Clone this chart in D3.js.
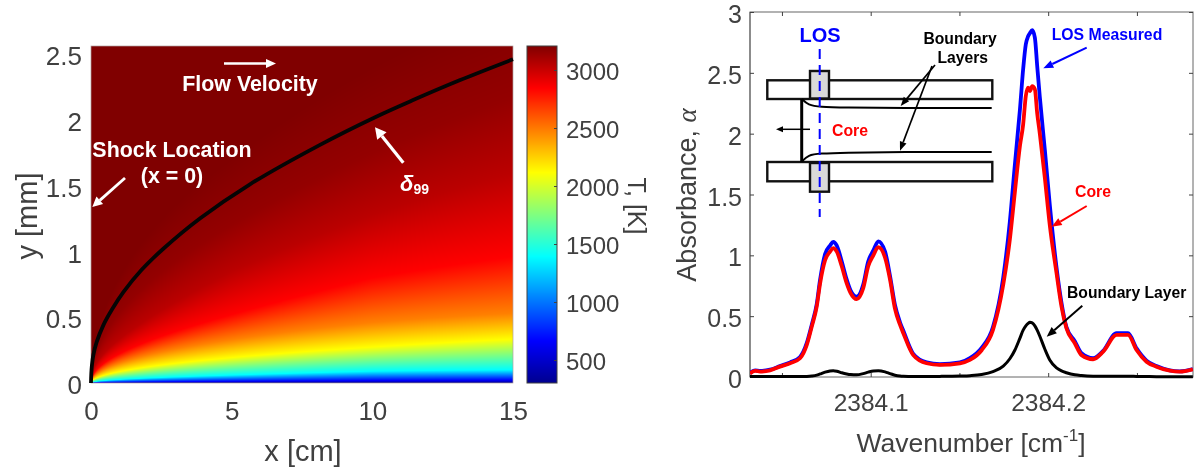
<!DOCTYPE html>
<html><head><meta charset="utf-8">
<style>
html,body{margin:0;padding:0;background:#fff;width:1194px;height:470px;overflow:hidden}
#wrap{position:relative;width:1194px;height:470px}
canvas,svg{position:absolute;left:0;top:0}
text{font-family:"Liberation Sans",Arial,sans-serif}
</style>
<script src="https://cdn.jsdelivr.net/npm/d3@7"></script>
</head><body><div id="wrap"><canvas id="heat"></canvas><svg id="svg" width="1194" height="470"></svg></div>
<script>
// ---- left panel data ----
const xTicks=[0,5,10,15];
const yTicks=[0,0.5,1,1.5,2,2.5];
const cbTicks=[500,1000,1500,2000,2500,3000];
const deltaX=[0,0.01,0.03,0.08,0.2,0.44,0.75,1.15,1.8,2.57,3.87,5.65,8.14,10.1,11.45,13.1,15];
const deltaY=[0,0.07,0.13,0.21,0.31,0.44,0.56,0.69,0.86,1.02,1.25,1.51,1.81,2.02,2.15,2.30,2.46];
// temperature field: height (mm) of each temperature level at four stations
const fieldStations=[1,5,10,15];
const fieldLevels=[302,665,1391,2117,2480,2844,3040,3150,3207];
const h01=[0,0.006,0.026,0.086,0.15,0.22,0.33,0.53,0.8];
const h05=[0,0.013,0.06,0.193,0.33,0.52,0.85,1.2,1.7];
const h10=[0,0.019,0.09,0.273,0.46,0.80,1.28,1.75,2.4];
const h15=[0,0.023,0.10,0.334,0.53,0.96,1.6,2.17,2.9];
const jetColors=["#00008f","#0000ff","#00ffff","#ffff00","#ff0000","#800000"];
const jetValues=[302,665,1391,2117,2844,3207];
// ---- right panel data ----
const specTicks=[2384.1,2384.2];
const specMinor=[2384.05,2384.1,2384.15,2384.2,2384.25];
const absTicks=[0,0.5,1,1.5,2,2.5,3];
const wave=[2384.0320,.0349,.0377,.0433,.0489,.0546,.0602,.0640,.0668,.0696,.0715,.0743,.0771,.0789,.0809,.0837,.0865,.0887,.0921,.0958,.0986,.1015,.1043,.1081,.1109,.1137,.1165,.1184,.1240,.1315,.1390,.1503,.1559,.1625,.1689,.1747,.1784,.1812,.1841,.1859,.1874,.1887,.1897,.1910,.1925,.1938,.1953,.1981,.2009,.2047,.2075,.2103,.2150,.2188,.2253,.2310,.2385,.2450,.2498,.2554,.2610,.2685,.2741,.2815].map((d,i)=>i?2384+d:d);
const losMeasured=[.035,.055,.05,.06,.09,.12,.165,.28,.43,.60,.80,1.01,1.08,1.11,1.08,.95,.80,.71,.66,.76,.95,1.04,1.115,1.03,.83,.59,.45,.38,.19,.12,.105,.12,.155,.24,.41,.82,1.277,1.74,2.2,2.53,2.735,2.80,2.825,2.85,2.79,2.56,2.3,1.87,1.417,.90,.61,.41,.295,.195,.155,.215,.36,.36,.235,.135,.09,.055,.047,.066];
const core=[.03,.05,.045,.055,.085,.113,.154,.264,.414,.58,.77,.96,1.03,1.06,1.03,.91,.77,.69,.64,.73,.91,1.0,1.067,.98,.80,.56,.43,.36,.18,.113,.10,.113,.14,.22,.387,.76,1.13,1.515,1.90,2.076,2.31,2.378,2.35,2.39,2.365,2.17,2.0,1.64,1.25,.854,.58,.40,.277,.18,.146,.208,.346,.346,.222,.126,.085,.052,.044,.063];
const boundary=[.004,.004,.004,.004,.004,.004,.004,.005,.008,.015,.025,.04,.05,.052,.048,.035,.025,.02,.018,.028,.04,.05,.052,.042,.028,.015,.008,.006,.004,.004,.005,.008,.011,.02,.044,.09,.15,.22,.32,.385,.42,.44,.45,.445,.42,.385,.335,.23,.14,.075,.05,.035,.018,.012,.007,.006,.006,.006,.005,.004,.003,.002,.002,.002];

const INK="#404040";
const svg=d3.select("#svg");
function style(g,size){g.selectAll("text").attr("fill",INK).attr("font-size",size);g.select(".domain").remove();}

// ---- left panel ----
const x=d3.scaleLinear().domain([0,15]).range([91,513]);
const y=d3.scaleLinear().domain([0,2.5]).range([383,54]);
const topPx=46;
const jet=d3.scaleLinear().domain(jetValues).range(jetColors).clamp(true);
const cv=document.getElementById("heat");cv.width=1194;cv.height=470;
const ctx=cv.getContext("2d");
const table=[h01,h05,h10,h15];
const etaAt=fieldLevels.map((_,l)=>d3.scaleLinear().domain(fieldStations).range(table.map((h,s)=>h[l]/Math.sqrt(fieldStations[s]))).clamp(true));
for(let i=91;i<513;i++){
  const xv=x.invert(i+.5), r=Math.sqrt(xv);
  const prof=d3.scaleLinear().domain(etaAt.map(e=>e(xv)*r)).range(fieldLevels).clamp(true);
  for(let j=topPx;j<383;j++){
    ctx.fillStyle=jet(prof(y.invert(j+.5)));
    ctx.fillRect(i,j,1,1);
  }
}
const cb=d3.scaleLinear().domain([302,3207]).range([383,46]);
for(let j=46;j<383;j++){ctx.fillStyle=jet(cb.invert(j+.5));ctx.fillRect(527,j,30,1);}

svg.append("rect").attr("x",91).attr("y",46).attr("width",422).attr("height",337).attr("fill","none").attr("stroke","#b0a0a0").attr("stroke-width",.7);
svg.append("path").datum(deltaX.map((d,i)=>[d,deltaY[i]]))
  .attr("d",d3.line().x(d=>x(d[0])).y(d=>y(d[1])).curve(d3.curveCatmullRom.alpha(0.5)))
  .attr("fill","none").attr("stroke","#050505").attr("stroke-width",3.8);

const gx=svg.append("g").attr("transform","translate(0,383)").call(d3.axisBottom(x).tickValues(xTicks).tickFormat(d3.format("d")).tickSize(0).tickPadding(19));
style(gx,26);
const gy=svg.append("g").attr("transform","translate(91,0)").call(d3.axisLeft(y).tickValues(yTicks).tickFormat(d=>String(d)).tickSize(0).tickPadding(9));
style(gy,26);gy.selectAll("text").attr("dy","0.41em");
svg.append("text").attr("x",303).attr("y",461).attr("text-anchor","middle").attr("fill",INK).attr("font-size",29).text("x [cm]");
svg.append("text").attr("transform","translate(37,216) rotate(-90)").attr("text-anchor","middle").attr("fill",INK).attr("font-size",29).text("y [mm]");

svg.append("rect").attr("x",527).attr("y",46).attr("width",30).attr("height",337).attr("fill","none").attr("stroke",INK).attr("stroke-width",1);
const gc=svg.append("g").attr("transform","translate(557,0)").call(d3.axisRight(cb).tickValues(cbTicks).tickFormat(d3.format("d")).tickSize(-3).tickPadding(9));
style(gc,24);gc.selectAll("line").attr("stroke",INK);gc.selectAll("text").attr("dy","0.38em");
svg.append("text").attr("transform","translate(628,206) rotate(90)").attr("text-anchor","middle").attr("fill",INK).attr("font-size",25).text("T, [K]");

function arrow(x1,y1,x2,y2,color,w,hl,hw){
  const a=Math.atan2(y2-y1,x2-x1),ca=Math.cos(a),sa=Math.sin(a);
  const bx=x2-hl*ca,by=y2-hl*sa;
  svg.append("line").attr("x1",x1).attr("y1",y1).attr("x2",bx).attr("y2",by).attr("stroke",color).attr("stroke-width",w);
  svg.append("path").attr("d",d3.line()([[x2,y2],[bx-hw*sa,by+hw*ca],[bx+hw*sa,by-hw*ca]])+"Z").attr("fill",color);
}
function label(t,cx,cy,size,color){
  return svg.append("text").attr("x",cx).attr("y",cy).attr("dy","0.36em").attr("text-anchor","middle").attr("font-size",size).attr("font-weight","bold").attr("fill",color).text(t);
}
arrow(224,63.5,276,63.5,"#fff",2.6,10,4.5);
label("Flow Velocity",250,83,21.4,"#fff");
label("Shock Location",172,149,21.4,"#fff");
label("(x = 0)",172,175,21.4,"#fff");
arrow(125,178,92.3,207,"#fff",2.8,10,5);
arrow(403.3,162.7,375,127.3,"#fff",3.2,11,6);
const dl=svg.append("text").attr("x",400).attr("y",191).attr("fill","#fff").attr("font-family","'DejaVu Serif'").attr("font-weight","bold");
dl.append("tspan").attr("font-size",22).attr("font-style","italic").text("δ");
dl.append("tspan").attr("font-size",14).attr("dy",3).text("99");

// ---- right panel ----
const sx=d3.scaleLinear().domain([2384.032,2384.2816]).range([750,1193]);
const sy=d3.scaleLinear().domain([0,3]).range([377,12]);
svg.append("defs").append("clipPath").attr("id","pc").append("rect").attr("x",750).attr("y",12).attr("width",443).attr("height",367);
svg.append("rect").attr("x",750).attr("y",12).attr("width",443).attr("height",365).attr("fill","none").attr("stroke","#666").attr("stroke-width",1);
svg.append("line").attr("x1",750).attr("x2",750).attr("y1",12).attr("y2",377).attr("stroke","#888").attr("stroke-width",1.8);
const gsb=svg.append("g").attr("transform","translate(0,377)").call(d3.axisBottom(sx).tickValues(specMinor).tickFormat(d=>specTicks.includes(d)?d3.format(".1f")(d):"").tickSize(-4).tickPadding(17));
style(gsb,24.5);gsb.selectAll("line").attr("stroke",INK);
const gst=svg.append("g").attr("transform","translate(0,12)").call(d3.axisTop(sx).tickValues(specMinor).tickFormat("").tickSize(-4));
gst.select(".domain").remove();gst.selectAll("line").attr("stroke",INK);
const gsl=svg.append("g").attr("transform","translate(750,0)").call(d3.axisLeft(sy).tickValues(absTicks).tickFormat(d=>String(d)).tickSize(-4).tickPadding(8));
style(gsl,25);gsl.selectAll("line").attr("stroke",INK);gsl.selectAll("text").attr("dy","0.42em");
const gsr=svg.append("g").attr("transform","translate(1193,0)").call(d3.axisRight(sy).tickValues(absTicks).tickFormat("").tickSize(-4));
gsr.select(".domain").remove();gsr.selectAll("line").attr("stroke",INK);

const line=d3.line().x((d,i)=>sx(wave[i])).y(d=>sy(d)).curve(d3.curveMonotoneX);
[[losMeasured,"#0000ff",3.8],[core,"#ff0000",3.8],[boundary,"#000",3]].forEach(([s,c,w])=>{
  svg.append("path").datum(s).attr("d",line).attr("fill","none").attr("stroke",c).attr("stroke-width",w).attr("stroke-linejoin","round").attr("clip-path","url(#pc)");
});

const xl=svg.append("text").attr("x",971).attr("y",452).attr("text-anchor","middle").attr("fill",INK).attr("font-size",26.5);
xl.append("tspan").text("Wavenumber [cm");
xl.append("tspan").attr("font-size",17).attr("dy",-11).text("-1");
xl.append("tspan").attr("dy",11).text("]");
const yl=svg.append("text").attr("transform","translate(696,195) rotate(-90)").attr("text-anchor","middle").attr("fill",INK).attr("font-size",27);
yl.append("tspan").text("Absorbance, ");
yl.append("tspan").attr("font-family","'Liberation Serif'").attr("font-style","italic").text("α");

// schematic
function box(x0,y0,x1,y1,fill){svg.append("rect").attr("x",x0).attr("y",y0).attr("width",x1-x0).attr("height",y1-y0).attr("fill",fill).attr("stroke","#111").attr("stroke-width",2.4);}
box(767.3,80.3,992.3,99,"#fff");
box(767.3,162,992.3,181.3,"#fff");
box(810,71,829,98.5,"#d9d9d9");
box(810,163,829,191.7,"#d9d9d9");
svg.append("line").attr("x1",801.7).attr("x2",801.7).attr("y1",99).attr("y2",162).attr("stroke","#000").attr("stroke-width",3);
const bl=d3.line().curve(d3.curveBasis);
svg.append("path").attr("d",bl([[802,99],[808,105],[820,107],[843,107.6],[900,108],[991.7,108]])).attr("fill","none").attr("stroke","#000").attr("stroke-width",2);
svg.append("path").attr("d",bl([[802,161.5],[808,155],[820,153.5],[843,152.6],[900,152],[991.7,152]])).attr("fill","none").attr("stroke","#000").attr("stroke-width",2);
svg.append("line").attr("x1",819.7).attr("x2",819.7).attr("y1",49).attr("y2",217).attr("stroke","#0000ff").attr("stroke-width",2).attr("stroke-dasharray","10,6");
arrow(810,129.3,776,129.3,"#000",1.5,7,3);
label("LOS",820,35,20,"#0000ff");
label("Core",850,130,15.8,"#ff0000");
label("Boundary",960,38,15.7,"#000");
label("Layers",962.7,57.3,15.7,"#000");
arrow(935,65,900.7,106,"#000",1.7,9,3.5);
arrow(932,66,900,150.7,"#000",1.7,9,3.5);
label("LOS Measured",1107,34,15.8,"#0000ff");
arrow(1086.7,47.7,1043.3,68.3,"#0000ff",2,10,4);
label("Core",1093,191.7,15.8,"#ff0000");
arrow(1086.7,206,1051.7,226.7,"#ff0000",2,10,4);
label("Boundary Layer",1126.7,292.3,15.7,"#000");
arrow(1082.3,305.7,1046.7,336.7,"#000",2,10,4);
</script></body></html>
